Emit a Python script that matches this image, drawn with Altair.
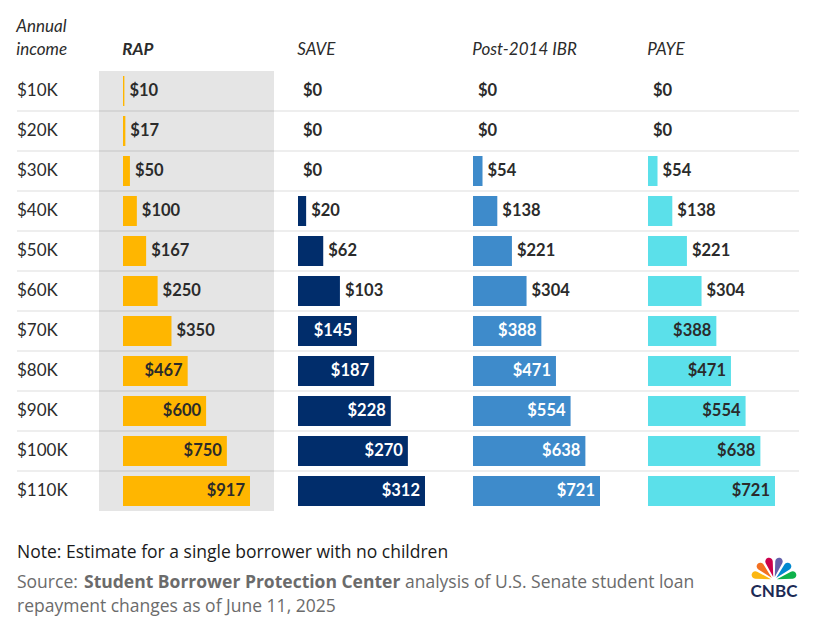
import altair as alt
import pandas as pd

# Monthly payment by annual income under each repayment plan
incomes = ["$10K", "$20K", "$30K", "$40K", "$50K", "$60K",
           "$70K", "$80K", "$90K", "$100K", "$110K"]
rap = [10, 17, 50, 100, 167, 250, 350, 467, 600, 750, 917]
save = [0, 0, 0, 20, 62, 103, 145, 187, 228, 270, 312]
ibr = [0, 0, 54, 138, 221, 304, 388, 471, 554, 638, 721]
paye = [0, 0, 54, 138, 221, 304, 388, 471, 554, 638, 721]

plans = ["RAP", "SAVE", "Post-2014 IBR", "PAYE"]
plan_values = [rap, save, ibr, paye]
plan_colors = ["#FFB600", "#012D6B", "#3E8BCB", "#5BE0EA"]
inside_text = ["#2b2b2b", "#ffffff", "#ffffff", "#2b2b2b"]

feathers = ["yellow", "orange", "red", "purple", "blue", "green"]
feather_colors = ["#FCB711", "#F37021", "#CC004C", "#6460AA", "#0089D0", "#0DB14B"]

FONT = "Lato"
FOOT_FONT = "Open Sans"
INK = "#2b2b2b"
PANEL_W = 175
LABEL_W = 82
BAR_START = 24
BAR_MAX = 127
ROW_H = 40
PLOT_H = ROW_H * len(incomes)

y_enc = alt.Y("income:N", sort=incomes, axis=None,
              scale=alt.Scale(paddingInner=0, paddingOuter=0))


def separators(base):
    return base.transform_filter(
        alt.FieldOneOfPredicate(field="income", oneOf=incomes[:-1])
    ).mark_rule(color="#000000", opacity=0.09, strokeWidth=1.5).encode(
        y=alt.Y("income:N", sort=incomes, axis=None, bandPosition=1,
                scale=alt.Scale(paddingInner=0, paddingOuter=0))
    )


# Row labels column
label_df = pd.DataFrame({"income": incomes})
label_base = alt.Chart(label_df)
label_panel = alt.layer(
    separators(label_base),
    label_base.mark_text(align="left", baseline="middle", font=FONT,
                         fontSize=17, color=INK).encode(
        x=alt.value(0), y=y_enc, text="income:N"),
).properties(
    width=LABEL_W, height=PLOT_H,
    title=alt.TitleParams(["Annual", "income"], anchor="start", font=FONT,
                          fontSize=17, fontStyle="italic", fontWeight="normal",
                          color=INK, lineHeight=23, offset=12),
)

panels = [label_panel]
for name, vals, col, txt in zip(plans, plan_values, plan_colors, inside_text):
    vmax = max(vals)
    per_px = vmax / BAR_MAX
    dom = [-BAR_START * per_px, (PANEL_W - BAR_START) * per_px]
    df = pd.DataFrame({"income": incomes, "value": vals})
    df["label"] = ["$" + str(v) for v in vals]
    base = alt.Chart(df)
    x_enc = alt.X("value:Q", axis=None,
                  scale=alt.Scale(domain=dom, nice=False, zero=False))
    cut = f"datum.value >= {0.44 * vmax}"
    bars = base.mark_bar(color=col, height={"band": 0.75}).encode(
        x=x_enc, y=y_enc)
    outside = base.transform_filter(f"!({cut})").mark_text(
        align="left", baseline="middle", dx=5, font=FONT, fontSize=16.5,
        fontWeight="bold", color=INK).encode(x=x_enc, y=y_enc, text="label:N")
    inside = base.transform_filter(cut).mark_text(
        align="right", baseline="middle", dx=-5, font=FONT, fontSize=16.5,
        fontWeight="bold", color=txt).encode(x=x_enc, y=y_enc, text="label:N")
    layer = alt.layer(separators(base), bars, outside, inside).properties(
        width=PANEL_W, height=PLOT_H,
        title=alt.TitleParams(name, anchor="start", dx=BAR_START, font=FONT,
                              fontSize=17, fontStyle="italic",
                              fontWeight="bold" if name == "RAP" else "normal",
                              color=INK, offset=12),
    )
    if name == "RAP":
        layer = layer.properties(view=alt.ViewBackground(fill="#E5E5E5", stroke=None))
    panels.append(layer)

table = alt.hconcat(*panels, spacing=0, bounds="flush")

# Footer: note, source and logo
foot_df = pd.DataFrame({"k": [0]})
fbase = alt.Chart(foot_df)


def ftext(text, x, y, color, weight="normal", size=17.5):
    return fbase.mark_text(text=text, align="left", baseline="alphabetic",
                           font=FOOT_FONT, fontSize=size, fontWeight=weight,
                           color=color).encode(x=alt.value(x), y=alt.value(y))


logo_df = pd.DataFrame({"feather": feathers, "share": [1] * len(feathers),
                        "order": list(range(len(feathers)))})
logo = alt.Chart(logo_df).mark_arc(
    innerRadius=3, outerRadius=23, padAngle=0.12, cornerRadius=7, x=757, y=43
).encode(
    theta=alt.Theta("share:Q", stack=True, scale=alt.Scale(range=[4.712, 7.854])),
    color=alt.Color("feather:N", legend=None,
                    scale=alt.Scale(domain=feathers, range=feather_colors)),
    order=alt.Order("order:Q"),
)

footer = alt.layer(
    ftext("Note: Estimate for a single borrower with no children", 0, 21, "#1a1a1a"),
    ftext("Source:", 0, 51, "#6b6b6b"),
    ftext("Student Borrower Protection Center", 67, 51, "#6b6b6b", "bold"),
    ftext("analysis of U.S. Senate student loan", 388, 51, "#6b6b6b"),
    ftext("repayment changes as of June 11, 2025", 0, 75, "#6b6b6b"),
    logo,
    fbase.mark_text(text="CNBC", align="center", baseline="alphabetic",
                    font=FONT, fontSize=17, fontWeight="bold",
                    color="#1C2A55").encode(x=alt.value(757), y=alt.value(60)),
).properties(width=LABEL_W + 4 * PANEL_W, height=80)

chart = alt.vconcat(table, footer, spacing=26).properties(
    padding={"left": 16, "top": 18, "right": 0, "bottom": 0},
    background="#ffffff",
).configure_view(stroke=None).configure_concat(spacing=0)

chart.save("out.html", embed_options={"renderer": "svg", "actions": False})
